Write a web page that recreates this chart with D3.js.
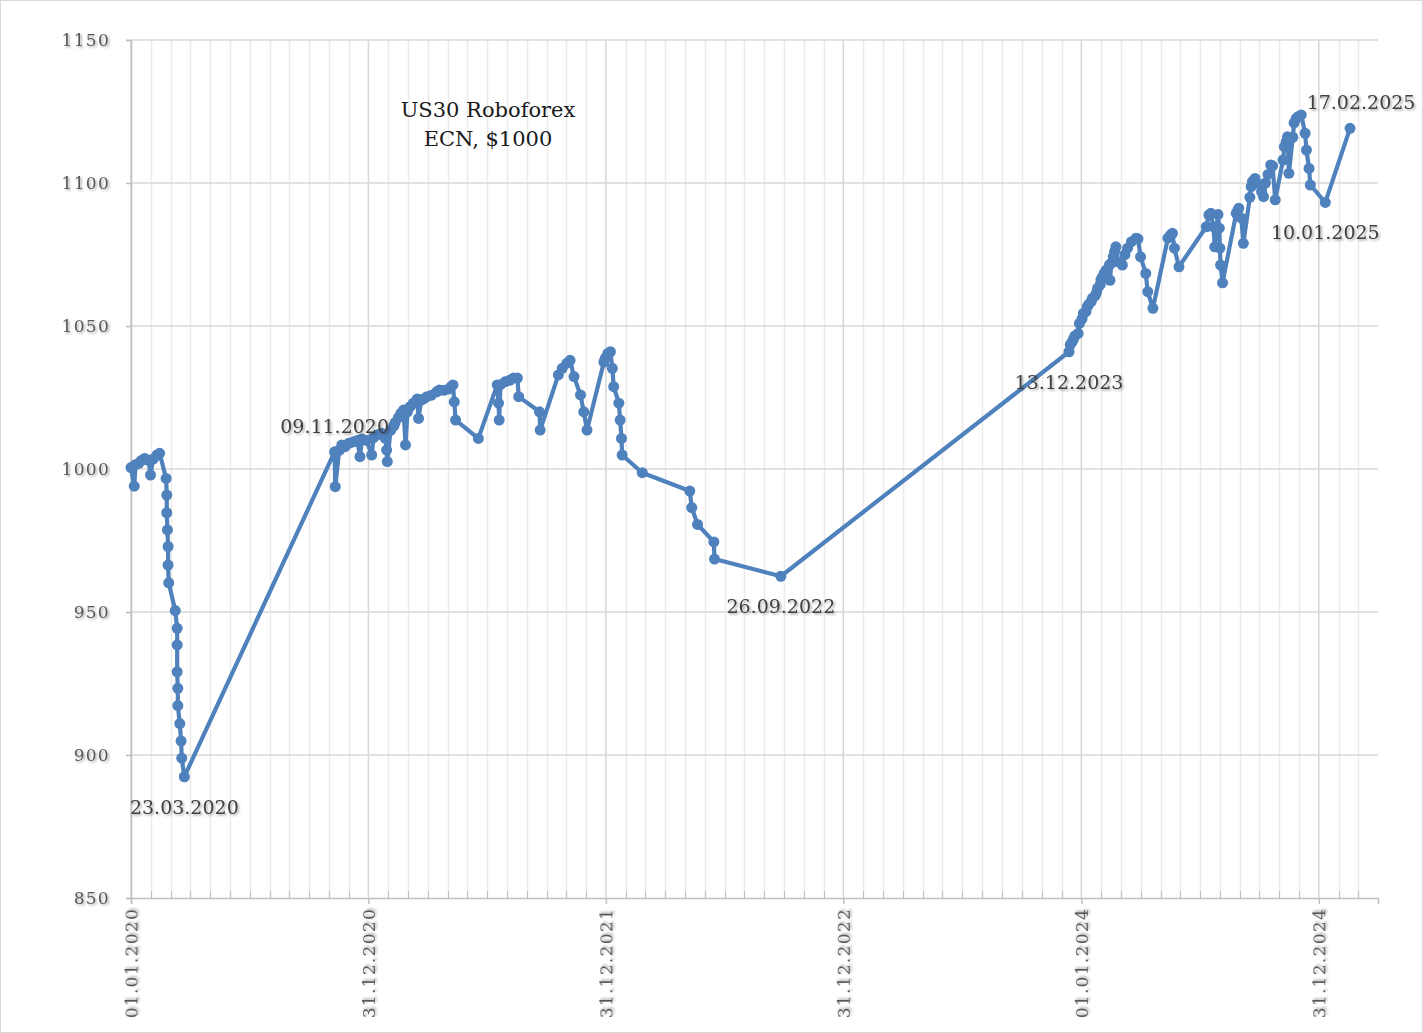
<!DOCTYPE html>
<html><head><meta charset="utf-8">
<script src="https://cdn.jsdelivr.net/npm/d3@7"></script>
<style>body{margin:0;background:#fff}svg{display:block}</style>
</head><body>
<svg id="c" width="1423" height="1033"></svg>
<script>
// ---------- DATA ----------
const dates = [
 "2020-01-01","2020-01-06","2020-01-08","2020-01-13","2020-01-17","2020-01-22","2020-01-28","2020-01-31","2020-02-04","2020-02-10","2020-02-14",
 "2020-02-24","2020-02-25","2020-02-25","2020-02-26","2020-02-27","2020-02-27","2020-02-28",
 "2020-03-09","2020-03-12","2020-03-12","2020-03-12","2020-03-13","2020-03-13","2020-03-16","2020-03-18","2020-03-19","2020-03-23",
 "2020-11-09","2020-11-10","2020-11-16","2020-11-20","2020-11-25","2020-12-01","2020-12-08","2020-12-14","2020-12-18","2020-12-21","2020-12-28",
 "2021-01-05","2021-01-08","2021-01-14","2021-01-20","2021-01-26","2021-01-28","2021-01-29","2021-02-03","2021-02-08","2021-02-10","2021-02-15","2021-02-19","2021-02-23","2021-02-26",
 "2021-03-01","2021-03-05","2021-03-10","2021-03-16","2021-03-18","2021-03-22","2021-03-26","2021-03-31","2021-04-07","2021-04-15","2021-04-19","2021-04-26","2021-05-04","2021-05-07","2021-05-10","2021-05-12","2021-05-14",
 "2021-06-18","2021-07-17","2021-07-19","2021-07-20","2021-07-22","2021-07-29","2021-08-05","2021-08-11","2021-08-17","2021-08-19",
 "2021-09-20","2021-09-21","2021-10-19","2021-10-25","2021-11-01","2021-11-06","2021-11-12","2021-11-22","2021-11-27","2021-12-02",
 "2021-12-28","2021-12-30","2022-01-03","2022-01-07","2022-01-10","2022-01-12","2022-01-20","2022-01-22","2022-01-24","2022-01-25",
 "2022-02-25","2022-05-09","2022-05-12","2022-05-21","2022-06-15","2022-06-16","2022-09-26",
 "2023-12-13","2023-12-15","2023-12-18","2023-12-20","2023-12-22","2023-12-27","2023-12-29","2024-01-02","2024-01-04","2024-01-08","2024-01-10","2024-01-12","2024-01-16","2024-01-18","2024-01-22","2024-01-24","2024-01-26","2024-01-30","2024-01-31","2024-02-02","2024-02-05","2024-02-08","2024-02-13","2024-02-14","2024-02-16","2024-02-19","2024-02-21","2024-02-23",
 "2024-02-26","2024-03-04","2024-03-08","2024-03-12","2024-03-18","2024-03-25","2024-03-28","2024-04-01","2024-04-09","2024-04-12","2024-04-20",
 "2024-05-13","2024-05-17","2024-05-20","2024-05-23","2024-05-30",
 "2024-07-11","2024-07-15","2024-07-18","2024-07-22","2024-07-24","2024-07-29","2024-07-31","2024-08-01","2024-08-02","2024-08-05",
 "2024-08-26","2024-08-28","2024-08-30","2024-09-03","2024-09-06","2024-09-16","2024-09-18","2024-09-20","2024-09-24","2024-09-26","2024-10-04","2024-10-07","2024-10-10","2024-10-14","2024-10-18","2024-10-21","2024-10-25",
 "2024-11-06","2024-11-08","2024-11-11","2024-11-13","2024-11-15","2024-11-21","2024-11-23","2024-11-26","2024-11-29","2024-12-04","2024-12-10","2024-12-12","2024-12-16","2024-12-18","2025-01-10","2025-02-17"
];
const equity = [
 1000.5,994,1001.5,1002,1003,1003.7,1003,997.9,1003.5,1004.9,1005.5,
 996.7,990.9,984.7,978.7,972.9,966.4,960.2,
 950.5,944.3,938.5,929.1,923.3,917.3,911,904.9,898.9,892.4,
 1006,993.8,1006.5,1008.4,1007.8,1009,1009.5,1010,1004.3,1010.5,1010,
 1004.9,1011,1012,1012.5,1010.7,1006.6,1002.6,1013.5,1015,1016.2,1018,1019.5,1020.6,1008.4,
 1020,1021.8,1023,1024.5,1017.7,1024.1,1024.5,1025.3,1025.8,1027,1027.6,1027.5,1028,1028.8,1029.4,1023.5,1017.1,
 1010.7,1029.4,1023,1017.1,1029.5,1030.5,1031,1031.8,1031.8,1025.3,
 1020,1013.6,1032.9,1035.2,1037,1038,1032.3,1025.9,1020,1013.6,
 1037.4,1038.7,1040.4,1041,1035.2,1028.8,1023,1017.1,1010.7,1004.9,
 998.7,992.3,986.5,980.6,974.5,968.5,962.5,
 1041,1043.5,1044.5,1045.5,1046.5,1047.4,1050.9,1052.5,1054.4,1055,1056.7,1057.5,1058.5,1059.7,1060.5,1061.5,1063.2,1064.5,1066.1,1067,1068.4,1069.5,1071.3,1066,1072,1074.2,1076,1077.7,
 1072.5,1071.3,1075,1077.2,1079.5,1080.7,1080.5,1074.2,1068.4,1062,1056.2,
 1080.7,1081.8,1082.4,1077.2,1070.7,
 1084.7,1088.8,1089.4,1084.7,1077.7,1089,1084.2,1077.2,1071.3,1065.1,
 1089.4,1090.2,1091.2,1087.7,1078.9,1095,1098.7,1100.5,1101.6,1100,1097,1095.2,1100,1103,1106.3,1106,1094.1,
 1108,1112.7,1114.5,1116.2,1103.4,1116,1121,1122.5,1123.2,1123.8,1117.4,1111.5,1105.1,1099.3,1093.2,1119.1
];
const xDomain = ["2020-01-01","2025-04-01"];
const xTickDates = ["2020-01-01","2020-12-31","2021-12-31","2022-12-31","2024-01-01","2024-12-31"];
const xTickLabels = ["01.01.2020","31.12.2020","31.12.2021","31.12.2022","01.01.2024","31.12.2024"];
const yTicks = [850,900,950,1000,1050,1100,1150];
const labelDates = ["2020-03-23","2020-11-09","2022-09-26","2023-12-13","2025-01-10","2025-02-17"];
const labelTexts = ["23.03.2020","09.11.2020","26.09.2022","13.12.2023","10.01.2025","17.02.2025"];
const labelPlace = ["below","above","below","below","below","above-right"];
const titleLines = ["US30 Roboforex","ECN, $1000"];

// ---------- CHART ----------
const W=1423,H=1033, L=131,R=1378,T=40,B=898;
const BLUE="#4f81bd";
const svg=d3.select("#c");
const defs=svg.append("defs");
const f=defs.append("filter").attr("id","sh").attr("x","-20%").attr("y","-40%").attr("width","140%").attr("height","180%");
f.append("feDropShadow").attr("dx",1.5).attr("dy",1.5).attr("stdDeviation",1.2).attr("flood-color","#000").attr("flood-opacity",0.35);

svg.append("rect").attr("x",0.5).attr("y",0.5).attr("width",W-1).attr("height",H-1).attr("fill","#fff").attr("stroke","#d9d9d9");

const parse=d3.utcParse("%Y-%m-%d");
const x=d3.scaleUtc().domain(xDomain.map(parse)).range([L,R]);
const y=d3.scaleLinear().domain([yTicks[0],yTicks[yTicks.length-1]]).range([B,T]);

const majors=xTickDates.map(parse);
const minors=[];
for(let i=0;i<majors.length;i++){
  const a=+majors[i];
  const b= i<majors.length-1 ? +majors[i+1] : null;
  const step = b!==null ? (b-a)/12 : (+majors[i]-+majors[i-1])/12;
  for(let k=1;k<12;k++){
    const t=a+k*step;
    if(b===null && t>+x.domain()[1]+1) break;
    minors.push(new Date(t));
  }
}
const grid=svg.append("g");
grid.selectAll("line.mn").data(minors).join("line")
  .attr("x1",d=>Math.round(x(d))+0.5).attr("x2",d=>Math.round(x(d))+0.5)
  .attr("y1",T).attr("y2",B).attr("stroke","#ebebeb").attr("stroke-width",1.5);
grid.selectAll("line.mj").data(majors).join("line")
  .attr("x1",d=>x(d)).attr("x2",d=>x(d))
  .attr("y1",T).attr("y2",B).attr("stroke","#d6d6d6").attr("stroke-width",1.5);
grid.selectAll("line.h").data(yTicks.slice(1)).join("line")
  .attr("x1",L).attr("x2",R).attr("y1",d=>y(d)).attr("y2",d=>y(d))
  .attr("stroke","#d9d9d9").attr("stroke-width",1.5);

svg.append("g").selectAll("line").data(minors).join("line")
  .attr("x1",d=>Math.round(x(d))+0.5).attr("x2",d=>Math.round(x(d))+0.5)
  .attr("y1",B-7).attr("y2",B).attr("stroke","#bfbfbf").attr("stroke-width",1);

const fontAxis="'DejaVu Serif', serif";
const xa=svg.append("g").attr("transform",`translate(0,${B})`)
  .call(d3.axisBottom(x).tickValues(majors).tickFormat((d,i)=>xTickLabels[i]).tickSize(6).tickPadding(4));
xa.select(".domain").attr("stroke","#bfbfbf").attr("stroke-width",1.5);
xa.selectAll(".tick line").attr("stroke","#bfbfbf").attr("stroke-width",1.5);
xa.selectAll(".tick text").attr("transform","rotate(-90)").attr("x",-10).attr("y",0).attr("dy","0.36em")
  .style("text-anchor","end").attr("fill","#595959").style("font-family",fontAxis).style("font-size","17px")
  .style("letter-spacing","1.3px").attr("filter","url(#sh)");

const ya=svg.append("g").attr("transform",`translate(${L},0)`)
  .call(d3.axisLeft(y).tickValues(yTicks).tickSize(5).tickPadding(16).tickFormat(d3.format("d")));
ya.select(".domain").attr("stroke","#bfbfbf").attr("stroke-width",1.5);
ya.selectAll(".tick line").attr("stroke","#bfbfbf").attr("stroke-width",1.5);
ya.selectAll(".tick text").attr("fill","#595959").style("font-family",fontAxis).style("font-size","17px")
  .style("letter-spacing","1.3px").attr("filter","url(#sh)");

const pts=dates.map((d,i)=>({date:parse(d),v:equity[i]}));
svg.append("path").datum(pts)
  .attr("d",d3.line().x(d=>x(d.date)).y(d=>y(d.v)))
  .attr("fill","none").attr("stroke",BLUE).attr("stroke-width",4.2).attr("stroke-linejoin","round").attr("stroke-linecap","round");
svg.append("g").selectAll("circle").data(pts).join("circle")
  .attr("cx",d=>x(d.date)).attr("cy",d=>y(d.v)).attr("r",5.5).attr("fill",BLUE);

const lblFont="'DejaVu Serif', serif";
labelDates.forEach((ds,i)=>{
  const idx=dates.lastIndexOf(ds);
  const px=x(parse(ds)), py=y(equity[idx]);
  let tx=px, ty=py;
  if(labelPlace[i]==="below") ty=py+37;
  else if(labelPlace[i]==="above") ty=py-19;
  else { ty=py-19; tx=px+11; }
  svg.append("text").attr("x",tx).attr("y",ty).attr("text-anchor","middle")
    .attr("fill","#404040").style("font-family",lblFont).style("font-size","19px")
    .attr("filter","url(#sh)").text(labelTexts[i]);
});

svg.append("g").selectAll("text").data(titleLines).join("text")
  .attr("x",488).attr("y",(d,i)=>117+i*29).attr("text-anchor","middle")
  .attr("fill","#1a1a1a").style("font-family",lblFont).style("font-size","21px").text(d=>d);
</script>
</body></html>
